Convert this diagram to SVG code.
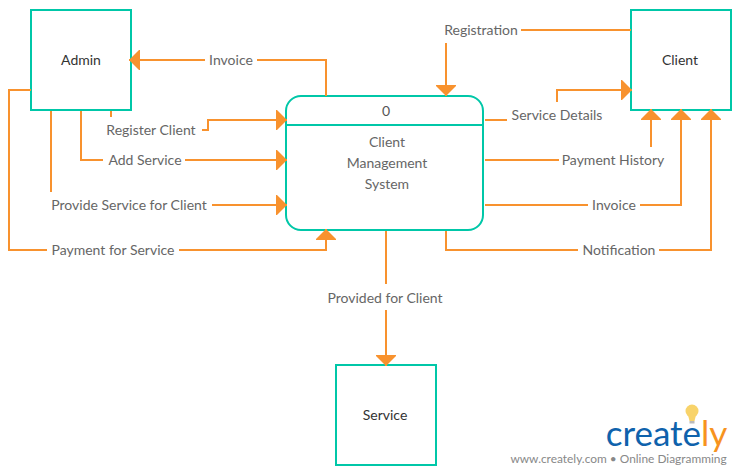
<svg xmlns="http://www.w3.org/2000/svg" width="740" height="475" viewBox="0 0 740 475">
<style>
text{font-family:Lato,"Open Sans","Liberation Sans",sans-serif;text-anchor:middle}
.box{fill:#fff;stroke:#00c7a8;stroke-width:2}
.name{font-size:14px;fill:#333}
.lbl{font-size:14px;fill:#666}
.c{fill:none;stroke:#f8922e;stroke-width:2}
.end{fill:#f8922e}
</style>
<defs>
<marker id="a" markerUnits="userSpaceOnUse" markerWidth="12" markerHeight="20" viewBox="0 0 12 20" refX="11" refY="10" orient="auto"><path class="end" d="M0 0L1 0L11 10L1 20L0 20Z"/></marker>
</defs>
<rect width="740" height="475" fill="#fff"/>
<g id="admin"><rect class="box" x="31" y="10" width="100" height="100"/><text class="name" x="81" y="65">Admin</text></g>
<g id="client"><rect class="box" x="631" y="10" width="100" height="100"/><text class="name" x="680" y="65">Client</text></g>
<g id="service"><rect class="box" x="336" y="365" width="100" height="100"/><text class="name" x="385" y="420">Service</text></g>
<g id="process">
<rect class="box" x="286" y="96" width="197" height="134" rx="15" ry="15"/>
<path class="box" d="M286 125H483"/>
<text x="386" y="116" font-size="14" fill="#555">0</text>
<text class="lbl" x="387" y="147">Client</text>
<text class="lbl" x="387" y="168">Management</text>
<text class="lbl" x="387" y="189">System</text>
</g>
<g id="connectors">
<path class="c" d="M326 96V60H257"/>
<path class="c" d="M205 60H129" marker-end="url(#a)"/>
<path class="c" d="M111 111V117"/>
<path class="c" d="M202 130H208V120H287" marker-end="url(#a)"/>
<path class="c" d="M81 111V160H103"/>
<path class="c" d="M185 160H287" marker-end="url(#a)"/>
<path class="c" d="M51 111V192"/>
<path class="c" d="M212 205H287" marker-end="url(#a)"/>
<path class="c" d="M31 90H9V250H47"/>
<path class="c" d="M179 250H326V229" marker-end="url(#a)"/>
<path class="c" d="M631 30H521"/>
<path class="c" d="M446 43V96" marker-end="url(#a)"/>
<path class="c" d="M485 120H507"/>
<path class="c" d="M557 102V90H632" marker-end="url(#a)"/>
<path class="c" d="M485 160H559"/>
<path class="c" d="M651 147V109" marker-end="url(#a)"/>
<path class="c" d="M485 205H588"/>
<path class="c" d="M640 205H681V109" marker-end="url(#a)"/>
<path class="c" d="M446 231V250H578"/>
<path class="c" d="M659 250H711V109" marker-end="url(#a)"/>
<path class="c" d="M386 231V284"/>
<path class="c" d="M386 310V366" marker-end="url(#a)"/>
</g>
<g id="labels">
<text class="lbl" x="231" y="65">Invoice</text>
<text class="lbl" x="151" y="135">Register Client</text>
<text class="lbl" x="145" y="165">Add Service</text>
<text class="lbl" x="129" y="210">Provide Service for Client</text>
<text class="lbl" x="113" y="255">Payment for Service</text>
<text class="lbl" x="481" y="35">Registration</text>
<text class="lbl" x="557" y="120">Service Details</text>
<text class="lbl" x="613" y="165">Payment History</text>
<text class="lbl" x="614" y="210">Invoice</text>
<text class="lbl" x="619" y="255">Notification</text>
<text class="lbl" x="385" y="303">Provided for Client</text>
</g>
<g id="logo">
<circle cx="692" cy="411" r="6.500" fill="#f8d36a"/>
<path d="M688 415H696L694.500 421H689.500Z" fill="#f8d36a"/>
<rect x="689.500" y="421" width="5" height="2.500" fill="#bbb"/>
<text x="666.500" y="446" font-size="35" fill="#0f62ac">create<tspan fill="#f7931e">ly</tspan></text>
<text x="618.500" y="463" font-size="11.900" fill="#888">www.creately.com • Online Diagramming</text>
</g>
</svg>
